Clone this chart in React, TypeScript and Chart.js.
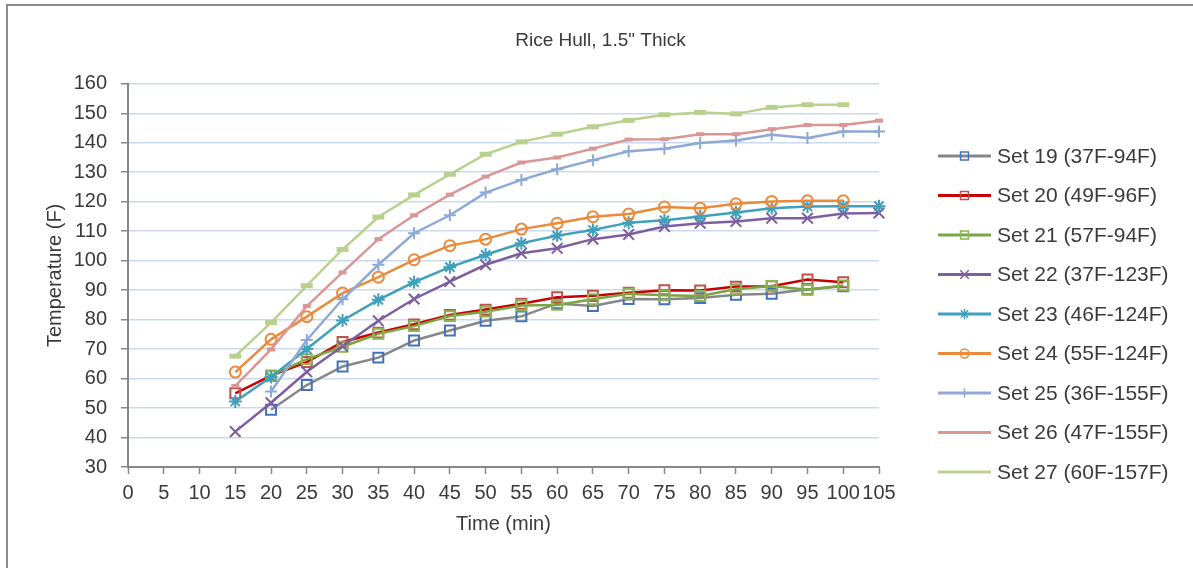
import React, { useEffect, useRef } from "react";
import { Chart, registerables, PointElement } from "chart.js";

Chart.register(...registerables);

const chartTitle = 'Rice Hull, 1.5" Thick';
const xTitle = "Time (min)";
const yTitle = "Temperature (F)";

const times = [15, 20, 25, 30, 35, 40, 45, 50, 55, 60, 65, 70, 75, 80, 85, 90, 95, 100, 105];

const seriesNames = [
  "Set 19 (37F-94F)",
  "Set 20 (49F-96F)",
  "Set 21 (57F-94F)",
  "Set 22 (37F-123F)",
  "Set 23 (46F-124F)",
  "Set 24 (55F-124F)",
  "Set 25 (36F-155F)",
  "Set 26 (47F-155F)",
  "Set 27 (60F-157F)",
];

const set19 = [null, 49.4, 57.8, 64.1, 67.1, 72.9, 76.3, 79.6, 81.1, 85.5, 84.6, 87.0, 86.9, 87.3, 88.4, 88.8, 90.3, 91.3, null];
const set20 = [55.0, 61.0, 65.6, 72.4, 75.6, 78.4, 81.6, 83.4, 85.4, 87.6, 88.1, 89.1, 90.0, 89.9, 91.2, 91.3, 93.6, 92.7, null];
const set21 = [null, 61.0, 66.6, 70.8, 75.2, 77.8, 81.2, 82.7, 84.8, 85.0, 86.9, 88.8, 88.3, 88.0, 90.3, 91.4, 90.1, 91.6, null];
const set22 = [42.0, 51.8, 62.3, 71.0, 79.6, 87.0, 92.9, 98.6, 102.5, 104.2, 107.3, 108.9, 111.6, 112.7, 113.3, 114.4, 114.4, 116.0, 116.2];
const set23 = [52.2, 60.5, 70.0, 79.7, 86.7, 92.7, 97.8, 102.0, 105.9, 108.5, 110.4, 112.9, 113.7, 115.0, 116.3, 117.8, 118.4, 118.5, 118.5];
const set24 = [62.2, 73.3, 81.0, 89.0, 94.4, 100.3, 105.1, 107.3, 110.7, 112.7, 114.9, 115.8, 118.2, 117.8, 119.3, 120.1, 120.3, 120.3, null];
const set25 = [null, 55.6, 73.1, 86.9, 98.6, 109.3, 115.4, 123.1, 127.4, 131.0, 134.1, 137.1, 138.0, 139.9, 140.8, 142.7, 141.6, 143.8, 143.8];
const set26 = [57.5, 69.9, 84.6, 96.0, 107.3, 115.4, 122.4, 128.5, 133.3, 135.0, 138.0, 141.1, 141.2, 142.9, 142.9, 144.6, 146.0, 146.0, 147.5];
const set27 = [67.6, 79.0, 91.5, 103.8, 114.8, 122.3, 129.3, 136.1, 140.3, 142.9, 145.4, 147.6, 149.5, 150.3, 149.8, 152.0, 152.9, 152.9, null];

const seriesValues = [set19, set20, set21, set22, set23, set24, set25, set26, set27];

const FONT = "'Liberation Sans', Arial, sans-serif";
const TEXT = "#3a3a3a";
const AXIS = "#878787";

type Style = {
  line: string;
  marker: string;
  pointStyle: string;
  radius: number;
  pbw: number;
  legendMarker: boolean;
};

const styles: Style[] = [
  { line: "#878787", marker: "#4472B8", pointStyle: "rect", radius: 7, pbw: 2, legendMarker: true },
  { line: "#C80000", marker: "#C0504D", pointStyle: "rect", radius: 7, pbw: 2, legendMarker: true },
  { line: "#7BA544", marker: "#8DB453", pointStyle: "rect", radius: 7, pbw: 2, legendMarker: true },
  { line: "#7D5FA0", marker: "#7D5FA0", pointStyle: "crossRot", radius: 7.5, pbw: 2, legendMarker: true },
  { line: "#3FA0BB", marker: "#3FA0BB", pointStyle: "star", radius: 6.5, pbw: 2, legendMarker: true },
  { line: "#EB8A3C", marker: "#EB8A3C", pointStyle: "circle", radius: 5.5, pbw: 2, legendMarker: true },
  { line: "#8EA9D6", marker: "#8EA9D6", pointStyle: "cross", radius: 6, pbw: 2, legendMarker: true },
  { line: "#D99694", marker: "#D99694", pointStyle: "line", radius: 4, pbw: 4, legendMarker: false },
  { line: "#B9D18E", marker: "#B9D18E", pointStyle: "line", radius: 6, pbw: 5, legendMarker: false },
];

const borderPlugin = {
  id: "outerBorder",
  beforeDraw(chart: any) {
    const ctx = chart.ctx;
    ctx.save();
    ctx.strokeStyle = "#8a8a8a";
    ctx.lineWidth = 2;
    ctx.beginPath();
    ctx.moveTo(7, chart.height);
    ctx.lineTo(7, 5);
    ctx.lineTo(chart.width, 5);
    ctx.stroke();
    ctx.restore();
  },
};

const sideLegendPlugin = {
  id: "sideLegend",
  afterDraw(chart: any) {
    const ctx = chart.ctx;
    const right = chart.chartArea.right;
    const x0 = right + 59;
    const x1 = right + 112;
    const tx = right + 118;
    const top = 156;
    const gap = 39.5;
    chart.data.datasets.forEach((ds: any, i: number) => {
      const st = styles[i];
      const y = top + i * gap;
      ctx.save();
      ctx.strokeStyle = st.line;
      ctx.lineWidth = 3;
      ctx.beginPath();
      ctx.moveTo(x0, y);
      ctx.lineTo(x1, y);
      ctx.stroke();
      if (st.legendMarker) {
        const p: any = new (PointElement as any)({
          x: (x0 + x1) / 2,
          y,
          options: {
            pointStyle: st.pointStyle,
            radius: st.radius * 0.8,
            borderWidth: 1.5,
            borderColor: st.marker,
            backgroundColor: "rgba(0,0,0,0)",
            rotation: 0,
          },
        });
        p.draw(ctx);
      }
      ctx.fillStyle = TEXT;
      ctx.font = `21px ${FONT}`;
      ctx.textAlign = "left";
      ctx.textBaseline = "middle";
      ctx.fillText(ds.label, tx, y + 1);
      ctx.restore();
    });
  },
};

export default function App() {
  const ref = useRef<HTMLCanvasElement>(null);

  useEffect(() => {
    document.body.style.margin = "0";
    const canvas = ref.current;
    if (!canvas) return;

    const datasets = seriesNames.map((name, i) => {
      const st = styles[i];
      const vals = seriesValues[i];
      const data = times
        .map((t, k) => ({ x: t, y: vals[k] }))
        .filter((d) => d.y !== null && d.y !== undefined);
      return {
        label: name,
        data,
        borderColor: st.line,
        borderWidth: 2.5,
        backgroundColor: "rgba(0,0,0,0)",
        pointStyle: st.pointStyle,
        pointRadius: st.radius,
        pointBorderWidth: st.pbw,
        pointBorderColor: st.marker,
        pointBackgroundColor: "rgba(0,0,0,0)",
        tension: 0,
        fill: false,
        clip: false as any,
        order: seriesNames.length - i,
      };
    });

    const chart = new Chart(canvas, {
      type: "line",
      data: { datasets },
      options: {
        animation: false,
        responsive: false,
        maintainAspectRatio: false,
        layout: { padding: { left: 8, right: 0, top: 0, bottom: 0 } },
        plugins: {
          legend: { display: false },
          tooltip: { enabled: false },
          title: {
            display: true,
            text: chartTitle,
            color: TEXT,
            font: { family: FONT, size: 19, weight: "normal" },
            padding: { top: 29, bottom: 32 },
          },
        },
        scales: {
          x: {
            type: "linear",
            min: 0,
            max: 105,
            ticks: {
              stepSize: 5,
              autoSkip: false,
              maxRotation: 0,
              minRotation: 0,
              padding: 7,
              color: TEXT,
              font: { family: FONT, size: 20 },
            },
            grid: {
              drawOnChartArea: false,
              tickLength: 7,
              tickColor: AXIS,
              tickWidth: 1.5,
            },
            border: { color: AXIS, width: 2 },
            title: {
              display: true,
              text: xTitle,
              color: TEXT,
              font: { family: FONT, size: 20 },
              padding: { top: 0, bottom: 32 },
            },
            afterFit: (s: any) => {
              s.height = 101;
            },
          },
          y: {
            type: "linear",
            min: 30,
            max: 160,
            ticks: {
              stepSize: 10,
              padding: 14,
              color: TEXT,
              font: { family: FONT, size: 20 },
            },
            grid: {
              color: "#C9D9EF",
              lineWidth: 1.5,
              tickLength: 7,
              tickColor: AXIS,
              tickWidth: 1.5,
            },
            border: { color: AXIS, width: 2 },
            title: {
              display: true,
              text: yTitle,
              color: TEXT,
              font: { family: FONT, size: 20 },
              padding: { top: 35, bottom: 0 },
            },
            afterFit: (s: any) => {
              s.width = 120;
            },
          },
          legendSpace: {
            type: "linear",
            position: "right",
            display: true,
            grid: { display: false },
            border: { display: false },
            ticks: { display: false },
            afterFit: (s: any) => {
              s.width = 314;
            },
          },
        },
      } as any,
      plugins: [borderPlugin, sideLegendPlugin],
    });

    return () => chart.destroy();
  }, []);

  return (
    <div style={{ position: "absolute", left: 0, top: 0, width: 1193, height: 568 }}>
      <canvas ref={ref} width={1193} height={568} style={{ display: "block" }} />
    </div>
  );
}
